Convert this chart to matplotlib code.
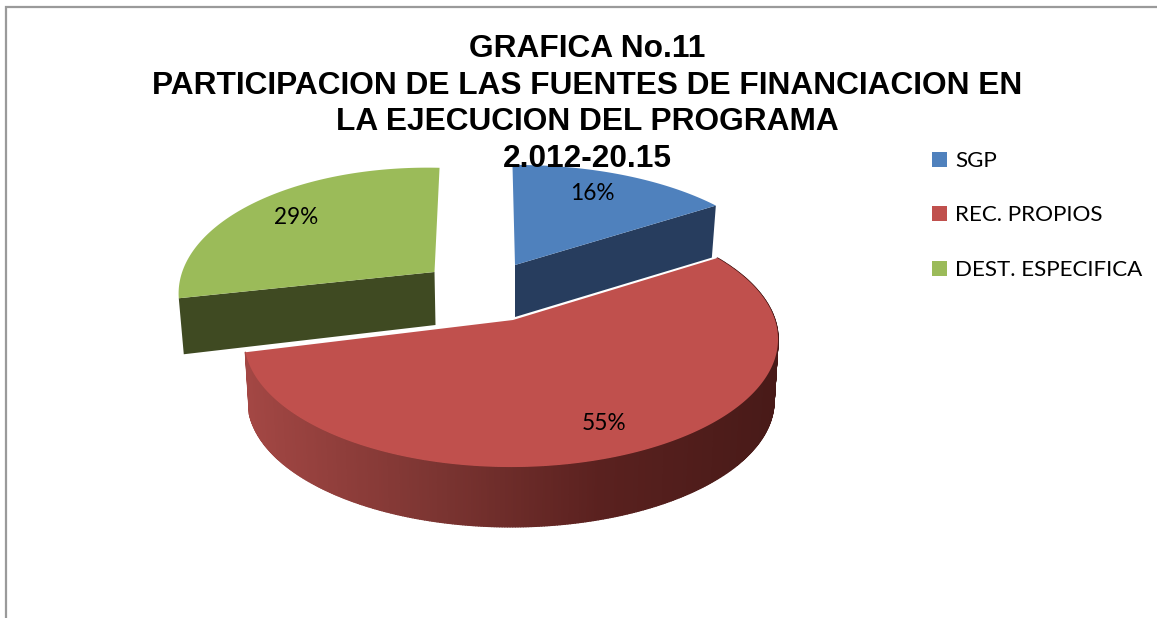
# grafica no.11 - exploded 3d pie drawn by hand (matplotlib has no real 3d pie)

import numpy as np
import matplotlib
matplotlib.use('Agg')
import matplotlib.pyplot as plt
from matplotlib.patches import Polygon, Rectangle
from matplotlib.collections import PolyCollection
from matplotlib.colors import LinearSegmentedColormap

# Data
categories = ['SGP', 'REC. PROPIOS', 'DEST. ESPECIFICA']
shares = [16, 55, 29]
title_lines = ['GRAFICA No.11',
               'PARTICIPACION DE LAS FUENTES DE FINANCIACION EN',
               'LA EJECUCION DEL PROGRAMA',
               '2.012-20.15']

# Colours
top_colors = ['#4F81BD', '#C0504D', '#9BBB59']
wall_colors = ['#273D5E', '#8A3A38', '#3F4A22']
red_wall = LinearSegmentedColormap.from_list('red_wall', ['#A34744', '#7E3633', '#5A211F', '#481A18'])

# Projection of each slice: apex, radii, perspective, lean of the far edge, thickness
geom = {
    'SGP':              dict(apex=(515, 265), rx=264, ry=119, k=0.19, lean=-3, thick=52, shift=0, tilt=-2),
    'REC. PROPIOS':     dict(apex=(513, 320), rx=264, ry=125, k=0.15, lean=0, thick=62, shift=-2, tilt=0),
    'DEST. ESPECIFICA': dict(apex=(434.5, 272), rx=250, ry=124, k=0.19, lean=6, thick=53, shift=0, tilt=6),
}

fig = plt.figure(figsize=(11.57, 6.18), dpi=100)
ax = fig.add_axes([0, 0, 1, 1])
ax.set_xlim(0, 1157)
ax.set_ylim(618, 0)
ax.axis('off')


def project(t, g, drop=0.0, scale=1.0):
    u, v = np.sin(t), np.cos(t)
    s = scale / (1 + g['k'] * v)
    x = g['apex'][0] + g['shift'] + (g['rx'] * u + g['lean'] * v) * s
    y = g['apex'][1] + drop + (g['tilt'] * u - g['ry'] * v) * s
    return np.column_stack([x, y])


# slice angles, clockwise from 12 o'clock
edges = np.radians(np.concatenate([[0], np.cumsum(shares)]) * 3.6)
arcs = {c: np.linspace(edges[i], edges[i + 1], 400) for i, c in enumerate(categories)}

# chart frame, only top and left are visible
ax.plot([1157, 6, 6], [7, 7, 618], color='#9A9A9A', lw=1.6, solid_joinstyle='miter', zorder=1)

# green slice
name = 'DEST. ESPECIFICA'
g = geom[name]
t = arcs[name]
p0 = project(t[:1], g)[0]
ax.add_patch(Polygon([g['apex'], p0, p0 + (5, g['thick'] + 3),
                      (g['apex'][0] + 1, g['apex'][1] + g['thick'])],
                     fc=wall_colors[2], ec='none', zorder=2))
ax.add_patch(Polygon(np.vstack([[g['apex']], project(t, g)]), fc=top_colors[2], ec='none', zorder=3))

# blue slice
name = 'SGP'
g = geom[name]
t = arcs[name]
p1 = project(t[-1:], g)[0]
ax.add_patch(Polygon([g['apex'], p1, p1 + (-4, g['thick']),
                      (g['apex'][0], g['apex'][1] + g['thick'])],
                     fc=wall_colors[0], ec='none', zorder=2))
ax.add_patch(Polygon(np.vstack([[g['apex']], project(t, g)]), fc=top_colors[0], ec='none', zorder=3))

# red slice: shaded outer wall first, then top
name = 'REC. PROPIOS'
g = geom[name]
t = arcs[name]
upper = project(t, g)
lower = project(t, g, drop=g['thick'], scale=0.985)
quads = [[upper[i], upper[i + 1], lower[i + 1], lower[i]] for i in range(len(t) - 1)]
mid_x = (upper[:-1, 0] + upper[1:, 0]) / 2
shade = red_wall((mid_x - mid_x.min()) / (mid_x.max() - mid_x.min()))
ax.add_collection(PolyCollection(quads, facecolors=shade, edgecolors=shade, linewidths=1.0, zorder=4))
ax.add_patch(Polygon(np.vstack([[g['apex']], upper]), fc=top_colors[1], ec='none', zorder=5))

# data labels
label_xy = [(592, 194), (604, 423), (296, 217)]
for v, (x, y) in zip(shares, label_xy):
    ax.text(x, y, f'{v}%', fontsize=16.3, family='Lato', color='black', ha='center', va='center', zorder=8)

# title
for line, y in zip(title_lines, [49, 86, 122, 159]):
    ax.text(587, y, line, fontsize=22.8, family='Liberation Sans', fontweight='bold',
            ha='center', va='center', color='black', zorder=9)

# legend
for c, col, y in zip(categories, top_colors, [159.5, 213.5, 268]):
    ax.add_patch(Rectangle((932, y - 7.5), 15, 15, fc=col, ec='none', zorder=8))
    ax.text(955, y + 1.5, c, fontsize=16.1, family='Lato', va='center', ha='left', color='black', zorder=8)

fig.savefig('out.png', dpi=100, facecolor='white')
